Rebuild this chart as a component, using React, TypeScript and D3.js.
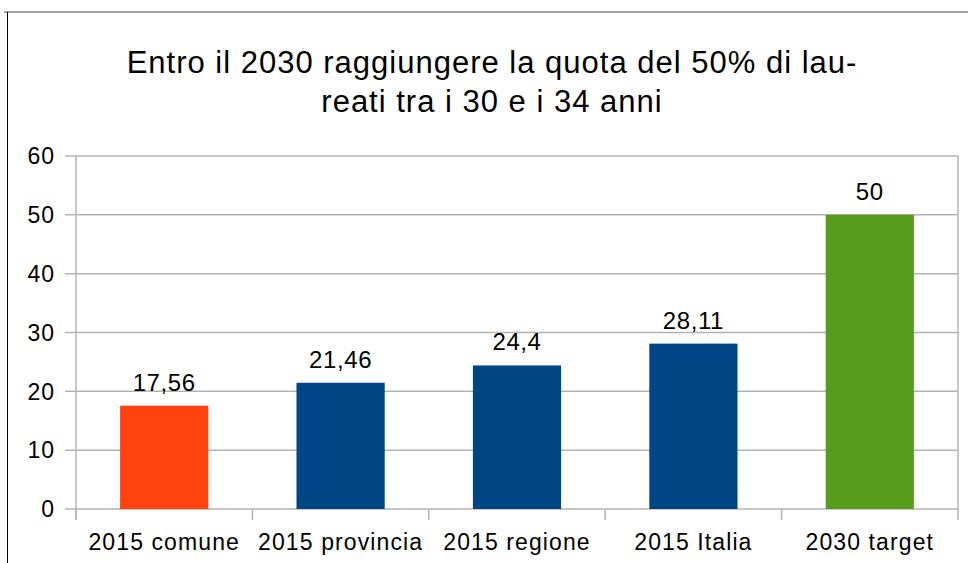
import React from 'react';
import * as d3 from 'd3';

const categories = ['2015 comune', '2015 provincia', '2015 regione', '2015 Italia', '2030 target'];
const values = [17.56, 21.46, 24.4, 28.11, 50];
const valueLabels = ['17,56', '21,46', '24,4', '28,11', '50'];
const barColors = ['#ff420e', '#004586', '#004586', '#004586', '#579d1c'];
const yTicks = [0, 10, 20, 30, 40, 50, 60];
const titleLines = ['Entro il 2030 raggiungere la quota del 50% di lau-', 'reati tra i 30 e i 34 anni'];

const W = 968;
const H = 563;
const font = '"Liberation Sans", Arial, sans-serif';

export default function App() {
  const left = 76, right = 958, top = 156, bottom = 509;

  const x = d3.scaleBand().domain(categories).range([left, right]).paddingInner(0.5).paddingOuter(0.25);
  const y = d3.scaleLinear().domain([0, 60]).range([bottom, top]);
  const step = x.step();
  const tickXs = d3.range(categories.length + 1).map((i) => left + i * step);

  return (
    <svg width={W} height={H} style={{ position: 'absolute', left: 0, top: 0, background: '#fff' }}>
      <rect x={0} y={0} width={W} height={H} fill="#fff" />
      {/* outer frame */}
      <line x1={4} x2={W} y1={12} y2={12} stroke="#808080" strokeWidth={1.5} />
      <line x1={7.5} x2={7.5} y1={12} y2={H} stroke="#000" strokeWidth={1} />

      {titleLines.map((t, i) => (
        <text key={i} x={492} y={73 + i * 38.5} textAnchor="middle" fontFamily={font} fontSize={31} letterSpacing={1} fill="#000">
          {t}
        </text>
      ))}

      {/* grid */}
      {yTicks.map((t) => (
        <g key={t}>
          <line x1={65} x2={right} y1={y(t)} y2={y(t)} stroke="#b3b3b3" strokeWidth={1.5} />
          <text x={55} y={y(t)} dy="0.36em" textAnchor="end" fontFamily={font} fontSize={23} letterSpacing={1} fill="#000">
            {t}
          </text>
        </g>
      ))}
      <line x1={right} x2={right} y1={top} y2={bottom} stroke="#b3b3b3" strokeWidth={1.5} />

      {categories.map((c, i) => (
        <g key={c}>
          <rect x={x(c)} y={y(values[i])} width={x.bandwidth()} height={bottom - y(values[i])} fill={barColors[i]} />
          <text x={(x(c) as number) + x.bandwidth() / 2} y={y(values[i]) - 15} textAnchor="middle" fontFamily={font} fontSize={24} letterSpacing={0.6} fill="#000">
            {valueLabels[i]}
          </text>
          <text x={(x(c) as number) + x.bandwidth() / 2} y={550} textAnchor="middle" fontFamily={font} fontSize={23} letterSpacing={1.1} fill="#000">
            {c}
          </text>
        </g>
      ))}

      {/* axes */}
      <line x1={left} x2={left} y1={top} y2={520} stroke="#b3b3b3" strokeWidth={1.5} />
      {tickXs.map((tx, i) => (
        <line key={i} x1={tx} x2={tx} y1={bottom} y2={520} stroke="#b3b3b3" strokeWidth={1.5} />
      ))}
    </svg>
  );
}
